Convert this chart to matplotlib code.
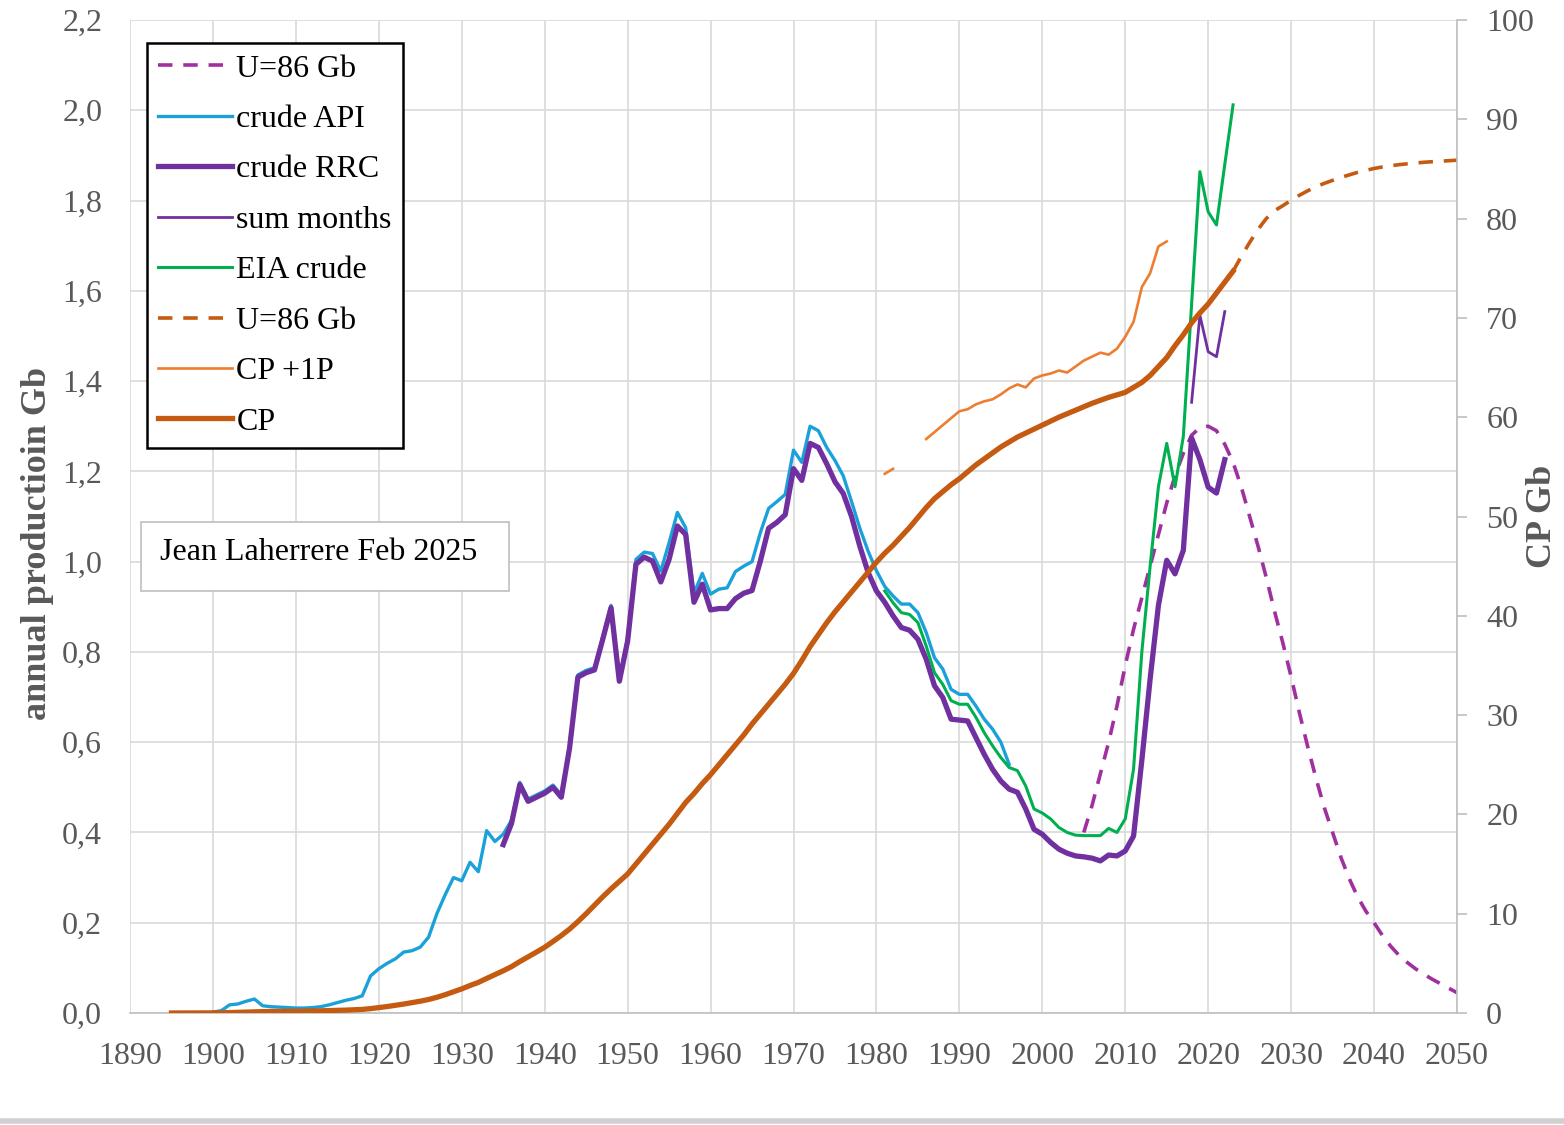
import numpy as np
import matplotlib
matplotlib.use('Agg')
import matplotlib.pyplot as plt
from matplotlib.ticker import FuncFormatter
from matplotlib.patches import Rectangle
from matplotlib.lines import Line2D

plt.rcParams['font.family'] = ['Liberation Serif', 'DejaVu Serif']

# ---- annual production, Gb (left axis) ----
api_years = list(range(1900, 1997))
crude_api = [0.002, 0.005, 0.018, 0.020, 0.026, 0.031, 0.016, 0.014, 0.013, 0.012,
             0.011, 0.011, 0.012, 0.014, 0.018, 0.023, 0.028, 0.032, 0.038, 0.082,
             0.098, 0.110, 0.120, 0.135, 0.138, 0.146, 0.168, 0.220, 0.262, 0.300,
             0.293, 0.334, 0.313, 0.404, 0.380, 0.396, 0.427, 0.511, 0.474, 0.483,
             0.492, 0.505, 0.483, 0.592, 0.749, 0.759, 0.765, 0.833, 0.903, 0.740,
             0.830, 1.005, 1.021, 1.018, 0.979, 1.042, 1.109, 1.075, 0.930, 0.974,
             0.928, 0.939, 0.942, 0.978, 0.990, 1.000, 1.064, 1.118, 1.133, 1.149,
             1.247, 1.220, 1.300, 1.290, 1.253, 1.224, 1.190, 1.133, 1.074, 1.023,
             0.980, 0.945, 0.924, 0.906, 0.906, 0.887, 0.843, 0.787, 0.762, 0.717,
             0.706, 0.706, 0.680, 0.651, 0.629, 0.600, 0.551]

rrc_years = list(range(1935, 2023))
crude_rrc = [0.373, 0.420, 0.506, 0.469, 0.478, 0.487, 0.500, 0.478, 0.587, 0.744,
             0.754, 0.760, 0.828, 0.898, 0.735, 0.824, 0.994, 1.010, 1.001, 0.955,
             1.005, 1.079, 1.060, 0.910, 0.950, 0.893, 0.896, 0.896, 0.918, 0.930,
             0.936, 1.001, 1.074, 1.087, 1.104, 1.206, 1.180, 1.262, 1.253, 1.217,
             1.177, 1.151, 1.100, 1.034, 0.976, 0.935, 0.910, 0.880, 0.854, 0.848,
             0.828, 0.784, 0.725, 0.699, 0.651, 0.649, 0.647, 0.610, 0.573, 0.540,
             0.514, 0.496, 0.489, 0.452, 0.407, 0.396, 0.378, 0.363, 0.354, 0.348,
             0.346, 0.343, 0.337, 0.350, 0.348, 0.359, 0.392, 0.560, 0.740, 0.903,
             1.003, 0.973, 1.025, 1.274, 1.226, 1.165, 1.152, 1.226]

months_years = [2018, 2019, 2020, 2021, 2022]
sum_months = [1.353, 1.546, 1.465, 1.454, 1.554]

eia_years = list(range(1981, 2024))
eia_crude = [0.935, 0.909, 0.887, 0.883, 0.865, 0.813, 0.754, 0.728, 0.692, 0.684,
             0.684, 0.655, 0.621, 0.592, 0.566, 0.544, 0.537, 0.503, 0.452, 0.443,
             0.430, 0.411, 0.400, 0.394, 0.393, 0.393, 0.393, 0.409, 0.400, 0.430,
             0.540, 0.800, 0.990, 1.166, 1.262, 1.166, 1.277, 1.570, 1.864, 1.775,
             1.746, 1.880, 2.012]

hub_years = list(range(2005, 2051))
hubbert = [0.40, 0.46, 0.53, 0.60, 0.68, 0.77, 0.85, 0.92, 0.99, 1.06,
           1.13, 1.19, 1.24, 1.28, 1.297, 1.30, 1.29, 1.26, 1.22, 1.165,
           1.10, 1.035, 0.965, 0.89, 0.82, 0.745, 0.665, 0.59, 0.52, 0.455,
           0.40, 0.345, 0.298, 0.258, 0.226, 0.200, 0.172, 0.148, 0.128, 0.112,
           0.098, 0.086, 0.075, 0.065, 0.055, 0.045]

# ---- cumulative production, Gb (right axis) ----
cp_years = list(range(1895, 2024))
cp = [0.00, 0.00, 0.00, 0.00, 0.00, 0.01, 0.02, 0.04, 0.06, 0.09,
      0.12, 0.14, 0.15, 0.17, 0.18, 0.19, 0.20, 0.21, 0.22, 0.24,
      0.26, 0.29, 0.32, 0.36, 0.44, 0.54, 0.65, 0.77, 0.90, 1.04,
      1.19, 1.36, 1.58, 1.84, 2.14, 2.43, 2.77, 3.08, 3.48, 3.86,
      4.25, 4.67, 5.18, 5.65, 6.13, 6.62, 7.20, 7.80, 8.45, 9.20,
      10.00, 10.85, 11.70, 12.50, 13.25, 14.00, 15.00, 16.00, 17.00, 18.00,
      19.00, 20.10, 21.20, 22.10, 23.10, 24.00, 25.00, 26.00, 27.00, 28.00,
      29.10, 30.10, 31.10, 32.10, 33.10, 34.20, 35.50, 36.90, 38.10, 39.30,
      40.40, 41.40, 42.40, 43.40, 44.40, 45.40, 46.30, 47.10, 48.00, 48.90,
      49.90, 50.90, 51.80, 52.50, 53.20, 53.80, 54.50, 55.20, 55.80, 56.40,
      57.00, 57.50, 58.00, 58.40, 58.80, 59.20, 59.60, 60.00, 60.35, 60.70,
      61.05, 61.40, 61.70, 62.00, 62.25, 62.50, 63.00, 63.50, 64.20, 65.10,
      66.00, 67.20, 68.30, 69.50, 70.50, 71.40, 72.50, 73.60, 74.70]

cp_u_years = list(range(2023, 2051))
cp_u86 = [74.7, 76.2, 77.6, 78.9, 80.0, 80.8, 81.3, 81.85, 82.35, 82.8,
          83.2, 83.55, 83.85, 84.15, 84.4, 84.65, 84.85, 85.05, 85.2, 85.32,
          85.43, 85.52, 85.6, 85.67, 85.73, 85.78, 85.83, 85.88]

cp1p_years = list(range(1981, 2016))
cp_1p = [54.3, 54.8, np.nan, np.nan, np.nan, 57.8, 58.5, 59.2, 59.9, 60.6,
         60.8, 61.3, 61.6, 61.8, 62.3, 62.9, 63.3, 63.0, 63.9, 64.2,
         64.4, 64.7, 64.5, 65.1, 65.7, 66.1, 66.5, 66.3, 66.9, 68.1,
         69.6, 73.1, 74.5, 77.2, 77.7]

gray_txt = '#595959'
W, H = 1564, 1125
fig = plt.figure(figsize=(W / 100, H / 100), dpi=100)
ax = fig.add_axes([130 / W, 1 - 1013 / H, 1327 / W, 993 / H])
ax2 = ax.twinx()

l_hub, = ax.plot(hub_years, hubbert, color='#A0309F', lw=2.6, dashes=(4, 3))
l_api, = ax.plot(api_years, crude_api, color='#1BA1DA', lw=2.4)
l_rrc, = ax.plot(rrc_years, crude_rrc, color='#7030A0', lw=3.8)
l_mon, = ax.plot(months_years, sum_months, color='#7030A0', lw=2.0)
l_eia, = ax.plot(eia_years, eia_crude, color='#00B050', lw=2.2)

l_cpu, = ax2.plot(cp_u_years, cp_u86, color='#C55A11', lw=2.6, dashes=(4, 3))
l_cp1, = ax2.plot(cp1p_years, cp_1p, color='#ED7D31', lw=1.9)
l_cp, = ax2.plot(cp_years, cp, color='#C55A11', lw=3.8)

ax.set_xlim(1890, 2050)
ax.set_ylim(0, 2.2)
ax2.set_ylim(0, 100)
ax.set_xticks(range(1890, 2051, 10))
ax.set_yticks(np.arange(0, 2.21, 0.2))
ax2.set_yticks(range(0, 101, 10))
ax.yaxis.set_major_formatter(FuncFormatter(lambda v, p: f'{v:.1f}'.replace('.', ',')))

ax.grid(True, color='#D9D9D9', lw=1.2)
ax.set_axisbelow(True)
for s in ['top', 'left', 'right']:
    ax.spines[s].set_visible(False)
for s in ['top', 'left', 'bottom']:
    ax2.spines[s].set_visible(False)
ax.spines['bottom'].set_color('#BFBFBF')
ax.spines['bottom'].set_linewidth(1.2)
ax2.spines['right'].set_color('#BFBFBF')
ax2.spines['right'].set_linewidth(1.2)

ax.tick_params(axis='x', length=0, pad=21, labelsize=23, labelcolor=gray_txt)
ax.tick_params(axis='y', length=0, pad=20, labelsize=23, labelcolor=gray_txt)
ax2.tick_params(axis='y', length=7, width=1.2, color='#BFBFBF', pad=14,
                labelsize=23, labelcolor=gray_txt)

ax.set_ylabel('annual productioin Gb', fontsize=26, fontweight='bold', color=gray_txt)
ax.yaxis.set_label_coords(-0.057, 0.473)
ax2.set_ylabel('CP Gb', fontsize=26, fontweight='bold', color=gray_txt)
ax2.yaxis.set_label_coords(1.052, 0.5)

handles = [l_hub, l_api, l_rrc, l_mon, l_eia, l_cpu, l_cp1, l_cp]
labels = ['U=86 Gb', 'crude API', 'crude RRC', 'sum months', 'EIA crude',
          'U=86 Gb', 'CP +1P', 'CP']
leg = ax2.legend(handles, labels, loc='upper left',
                 bbox_to_anchor=(17 / 1327, (1013 - 43) / 993),
                 fancybox=False, edgecolor='black', framealpha=1,
                 fontsize=23, handlelength=2.3, handletextpad=0.15,
                 labelspacing=0.66, borderpad=0.35, borderaxespad=0)
leg.get_frame().set_linewidth(1.8)

ax2.add_patch(Rectangle((11 / 1327, (1013 - 591) / 993), 368 / 1327, 69 / 993,
                        transform=ax2.transAxes, facecolor='white',
                        edgecolor='#BFBFBF', lw=1.2, zorder=5))
ax2.text(30 / 1327, (1013 - 553) / 993, 'Jean Laherrere Feb 2025',
         transform=ax2.transAxes, fontsize=23, va='center', ha='left', zorder=6)

fig.add_artist(Line2D([0, 1], [1 - 1121 / H] * 2, transform=fig.transFigure,
                      color='#D0D0D0', lw=4))

plt.savefig('out.png', dpi=100)
